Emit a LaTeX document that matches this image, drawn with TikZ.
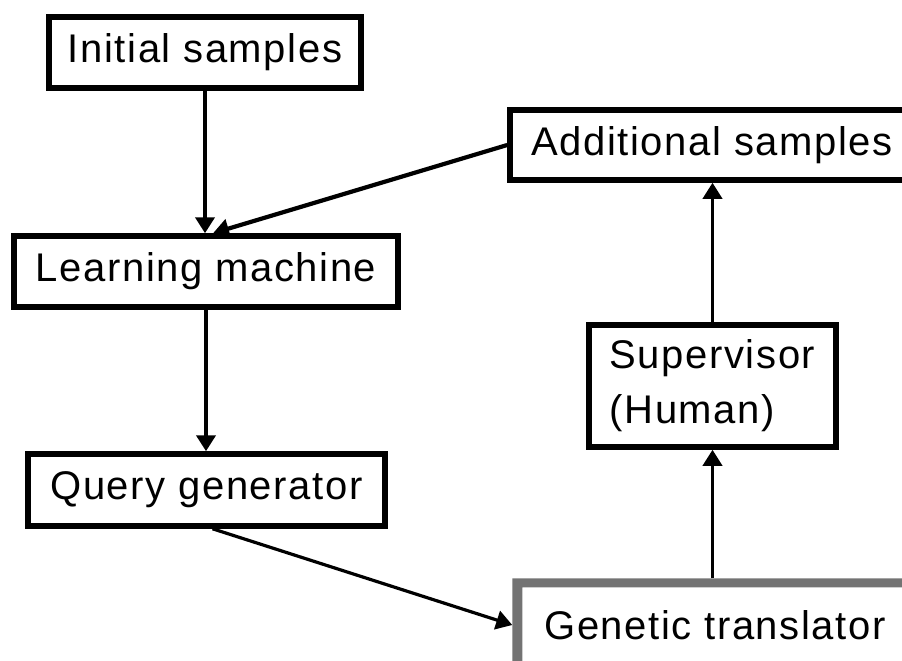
\documentclass[tikz,border=0pt]{standalone}
\usepackage{fontspec}
\setmainfont[LetterSpace=4]{Liberation Sans}
\usetikzlibrary{arrows.meta}
\definecolor{framegray}{gray}{0.45}
\begin{document}
\begin{tikzpicture}[x=1pt,y=-1pt,
  box/.style={draw, line width=5.5pt, fill=white, inner sep=0pt,
              font=\fontsize{40}{55}\selectfont},
  link/.style={line width=4.2pt, -{Triangle[width=19pt,length=16pt]}}]
\useasboundingbox (0,0) rectangle (902,661);
\clip (0,0) rectangle (902,661);

% boxes
\node[box, minimum width=312pt, minimum height=71pt] (init)  at (205,52.5) {Initial samples};
\node[box, minimum width=404pt, minimum height=70pt] (add)   at (712,145)  {Additional samples};
\node[box, minimum width=384pt, minimum height=71pt] (learn) at (206,271.5) {Learning machine};
\node[box, minimum width=357pt, minimum height=72pt] (query) at (206.5,490) {Query generator};
\node[box, minimum width=247pt, minimum height=122pt, align=left] (sup) at (712.5,386) {Supervisor\\(Human)};
\node[box, draw=none, minimum width=380pt, minimum height=70pt] (gen) at (715,625) {Genetic translator};

% shaded frame of the translator box
\fill[framegray] ([xshift=-10pt]gen.south west) |- ([yshift=9pt]gen.north east)
  -- (gen.north east) -| (gen.south west) -- cycle;
\draw[framegray, line width=1.5pt, dotted] (gen.south west) -- (gen.south east);

% connectors
\draw[link] (init.south) -- (init.south |- learn.north);
\draw[link] (add.west) -- ([xshift=7pt]learn.north);
\draw[link] (learn.south) -- (learn.south |- query.north);
\draw[link, line width=3.2pt] ([xshift=6pt]query.south) -- ([xshift=-10pt]gen.west);
\draw[link, line width=3.6pt] ([yshift=9pt]gen.north -| sup.south) -- (sup.south);
\draw[link, line width=3.6pt] (sup.north) -- (sup.north |- add.south);
\end{tikzpicture}
\end{document}
